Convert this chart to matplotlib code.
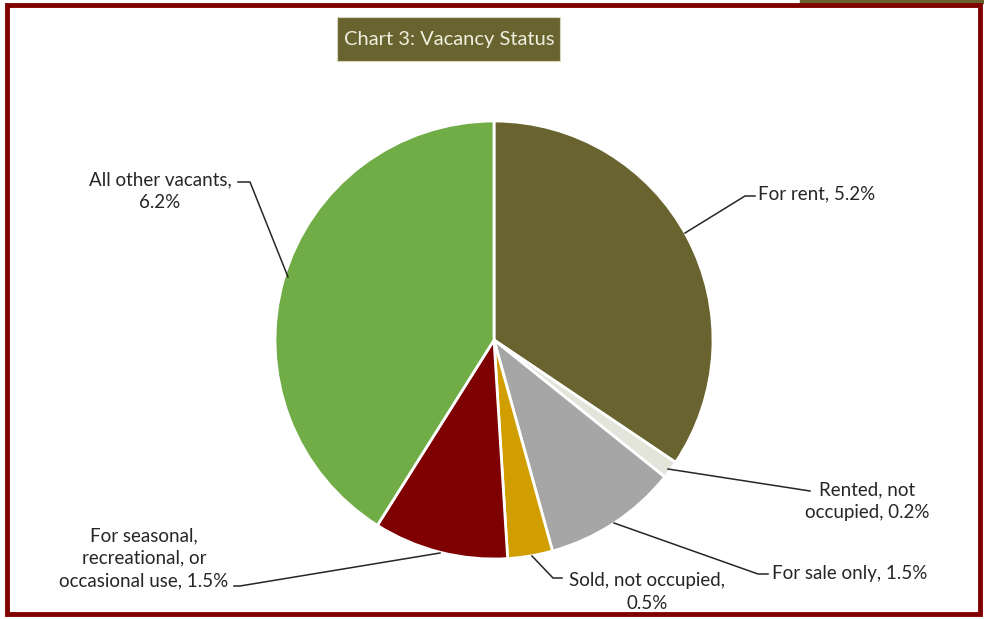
"""Chart 3: Vacancy Status pie chart."""

import matplotlib.pyplot as plt
from matplotlib.patches import Rectangle

labels = [
    "For rent, 5.2%",
    "Rented, not\noccupied, 0.2%",
    "For sale only, 1.5%",
    "Sold, not occupied,\n0.5%",
    "For seasonal,\nrecreational, or\noccasional use, 1.5%",
    "All other vacants,\n6.2%",
]
values = [5.2, 0.2, 1.5, 0.5, 1.5, 6.2]
colors = ["#69632f", "#e3e4da", "#a6a6a6", "#d19e00", "#7f0000", "#70ad47"]

# label text positions and leader line points (pixel coords, y down)
text_xy = [(758, 194), (867, 501), (772, 573), (647, 592), (144, 558), (160, 191)]
text_ha = ["left", "center", "left", "center", "center", "center"]
leaders = [
    [(685, 233), (745, 196), (755, 196)],
    [(668, 469), (810, 491)],
    [(614, 523), (758, 574), (768, 574)],
    [(532, 556), (553, 578), (562, 578)],
    [(440, 553), (240, 586), (234, 586)],
    [(288, 277), (250, 182), (238, 182)],
]

W, H = 984, 619
fig = plt.figure(figsize=(W / 100, H / 100), dpi=100)
plt.rcParams["font.family"] = ["Lato", "DejaVu Sans"]
ax = fig.add_axes([0, 0, 1, 1])

ax.pie(
    values,
    colors=colors,
    startangle=90,
    counterclock=False,
    center=(494, H - 340),
    radius=219,
    wedgeprops={"edgecolor": "white", "linewidth": 2},
    frame=True,
)
ax.set_xlim(0, W)
ax.set_ylim(0, H)
ax.set_aspect("auto")
ax.axis("off")

for lab, (tx, ty), ha, pts in zip(labels, text_xy, text_ha, leaders):
    ax.text(tx, H - ty, lab, ha=ha, va="center", fontsize=13.5,
            color="#262626", linespacing=1.4)
    ax.plot([p[0] for p in pts], [H - p[1] for p in pts],
            color="#262626", lw=1.1)

# title box
ax.add_patch(Rectangle((337, H - 61), 223, 44, fc="#69632f", ec="#d8d6c0", lw=0.8))
ax.text(449, H - 40, "Chart 3: Vacancy Status", ha="center", va="center",
        fontsize=14.5, color="#efefdf")

# outer frame and top strip
ax.add_patch(Rectangle((800, H - 3), 184, 3, color="#69632f", clip_on=False))
ax.add_patch(Rectangle((7, H - 614), 973, 609, fill=False,
                       ec="#800000", lw=3.5, clip_on=False))

fig.savefig("out.png", dpi=100)
